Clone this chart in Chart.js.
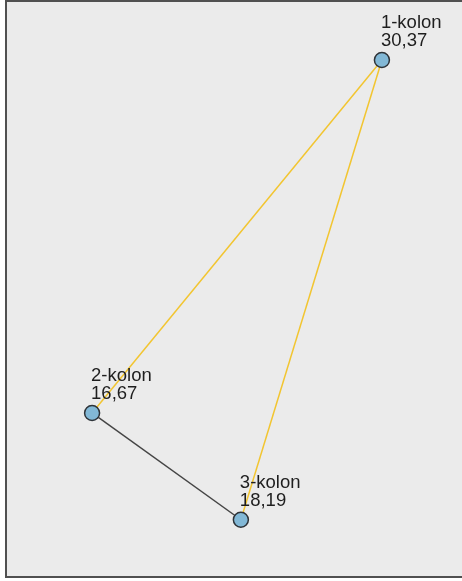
<!DOCTYPE html>
<html>
<head>
<meta charset="utf-8">
<script src="https://cdn.jsdelivr.net/npm/chart.js@4/dist/chart.umd.min.js"></script>
<style>
  html, body { margin: 0; padding: 0; background: #fff; }
  #frame {
    position: absolute; left: 5px; top: 0px;
    width: 457px; height: 574px;
    border-left: 2px solid #505050; border-top: 2px solid #505050; border-bottom: 2px solid #505050;
    background: #ebebeb;
  }
  #wrap { position: relative; width: 455px; height: 574px; }
</style>
</head>
<body>
<div id="frame"><div id="wrap"><canvas id="c"></canvas></div></div>
<script>
// nodes (layout position, 0..100 units)
var nodeNames = ["1-kolon", "2-kolon", "3-kolon"];
var nodeValues = [30.37, 16.67, 18.19];
var nodeX = [82.4, 18.7, 51.4];
var nodeY = [89.9, 28.4, 9.8];

// edges as [from, to] node indexes
var edgesYellow = [[0, 1], [0, 2]];
var edgesGray = [[1, 2]];

var YELLOW = "#f2c530";
var GRAY = "#454545";

function pt(i) { return { x: nodeX[i], y: nodeY[i] }; }

var datasets = [{
  label: "nodes",
  data: nodeX.map(function(_, i) { return pt(i); }),
  showLine: false,
  pointRadius: 7.5,
  pointHoverRadius: 7.5,
  pointBackgroundColor: "#82b8d6",
  pointBorderColor: "#2e3338",
  pointBorderWidth: 1.5
}];

edgesYellow.forEach(function(e) {
  datasets.push({ data: [pt(e[0]), pt(e[1])], showLine: true, borderColor: YELLOW, borderWidth: 1.5, pointRadius: 0 });
});
edgesGray.forEach(function(e) {
  datasets.push({ data: [pt(e[0]), pt(e[1])], showLine: true, borderColor: GRAY, borderWidth: 1.5, pointRadius: 0 });
});

var nodeLabels = {
  id: "nodeLabels",
  afterDatasetsDraw: function(chart) {
    var ctx = chart.ctx;
    var meta = chart.getDatasetMeta(0);
    ctx.save();
    ctx.fillStyle = "#1e1e1e";
    ctx.font = "18.5px 'Liberation Sans', Arial, sans-serif";
    ctx.textAlign = "left";
    ctx.textBaseline = "alphabetic";
    meta.data.forEach(function(el, i) {
      var x = el.x - 1, y = el.y;
      ctx.fillText(nodeNames[i], x, y - 32);
      ctx.fillText(nodeValues[i].toFixed(2).replace(".", ","), x, y - 14);
    });
    ctx.restore();
  }
};

new Chart(document.getElementById("c"), {
  type: "scatter",
  data: { datasets: datasets },
  options: {
    responsive: true,
    maintainAspectRatio: false,
    animation: false,
    clip: false,
    layout: { padding: 0, autoPadding: false },
    plugins: { legend: { display: false }, tooltip: { enabled: false } },
    events: [],
    scales: {
      x: { type: "linear", min: 0, max: 100, display: false },
      y: { type: "linear", min: 0, max: 100, display: false }
    }
  },
  plugins: [nodeLabels]
});
</script>
</body>
</html>
